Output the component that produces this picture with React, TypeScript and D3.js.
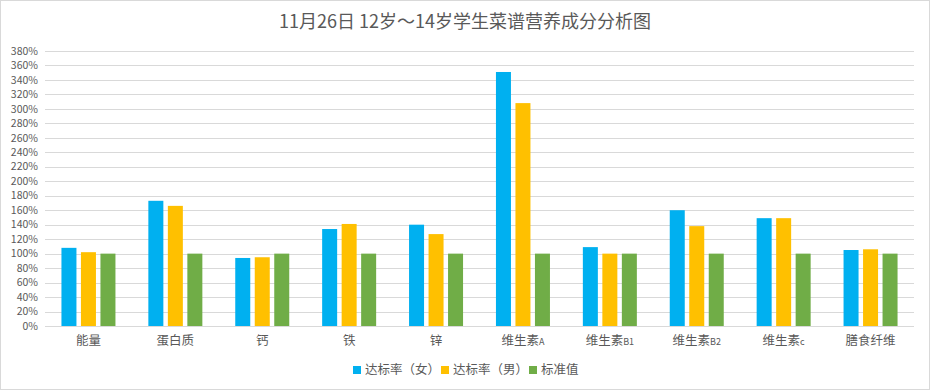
import * as d3 from 'd3';

const W = 930;
const H = 390;

const categories = ['能量', '蛋白质', '钙', '铁', '锌', '维生素A', '维生素B1', '维生素B2', '维生素c', '膳食纤维'];
const female = [108, 173, 94, 134, 140, 351, 109, 160, 149, 105];
const male = [102, 166, 95, 141, 127, 308, 100, 138, 149, 106];
const standard = [100, 100, 100, 100, 100, 100, 100, 100, 100, 100];
const seriesNames = ['达标率（女）', '达标率（男）', '标准值'];
const colors = ['#00b0f0', '#ffc000', '#70ad47'];
const yTicks = d3.range(0, 381, 20);

const margin = { top: 51, right: 16, bottom: 64, left: 45 };

export default function App() {
  const x = d3
    .scaleBand<string>()
    .domain(categories)
    .range([margin.left, W - margin.right]);
  const y = d3.scaleLinear().domain([0, 380]).range([H - margin.bottom, margin.top]);

  const series = [female, male, standard];
  const barW = 15;
  const gap = 4.5;
  const groupW = barW * 3 + gap * 2;

  // split "维生素A" etc. into the CJK part and the small latin suffix
  const label = (c: string) => {
    const m = c.match(/^([^A-Za-z0-9]+)([A-Za-z0-9]*)$/);
    return m ? [m[1], m[2]] : [c, ''];
  };

  const font = '"Microsoft YaHei", "Noto Sans CJK SC", sans-serif';

  return (
    <div style={{ position: 'absolute', left: 0, top: 0 }}>
      <svg width={W} height={H} style={{ display: 'block', fontFamily: font }}>
        <rect x={0.5} y={0.5} width={W - 1} height={H - 1} fill="#fff" stroke="#d9d9d9" />
        <text x={W / 2} y={28} textAnchor="middle" fontSize={18} fill="#595959">
          11月26日 12岁～14岁学生菜谱营养成分分析图
        </text>

        {yTicks.map((t) => (
          <g key={t}>
            <line
              x1={margin.left}
              x2={W - margin.right}
              y1={Math.round(y(t)) + 0.5}
              y2={Math.round(y(t)) + 0.5}
              stroke="#d9d9d9"
              strokeWidth={1}
            />
            <text x={38} y={y(t)} dy="0.35em" textAnchor="end" fontSize={10.5} fill="#595959">
              {t}%
            </text>
          </g>
        ))}

        {categories.map((c, i) => {
          const x0 = (x(c) ?? 0) + (x.bandwidth() - groupW) / 2;
          return (
            <g key={c}>
              {series.map((s, j) => (
                <rect
                  key={j}
                  x={x0 + j * (barW + gap)}
                  y={y(s[i])}
                  width={barW}
                  height={y(0) - y(s[i])}
                  fill={colors[j]}
                />
              ))}
            </g>
          );
        })}

        {categories.map((c) => {
          const [a, b] = label(c);
          return (
            <text
              key={c}
              x={(x(c) ?? 0) + x.bandwidth() / 2}
              y={341}
              dy="0.35em"
              textAnchor="middle"
              fontSize={12.5}
              fill="#595959"
            >
              {a}
              {b && <tspan fontSize={9}>{b}</tspan>}
            </text>
          );
        })}

        {seriesNames.map((n, i) => {
          const lx = [353, 441, 529][i];
          return (
            <g key={n}>
              <rect x={lx} y={366} width={8} height={8} fill={colors[i]} />
              <text x={lx + 12} y={370} dy="0.35em" fontSize={12.5} fill="#595959">
                {n}
              </text>
            </g>
          );
        })}
      </svg>
    </div>
  );
}
